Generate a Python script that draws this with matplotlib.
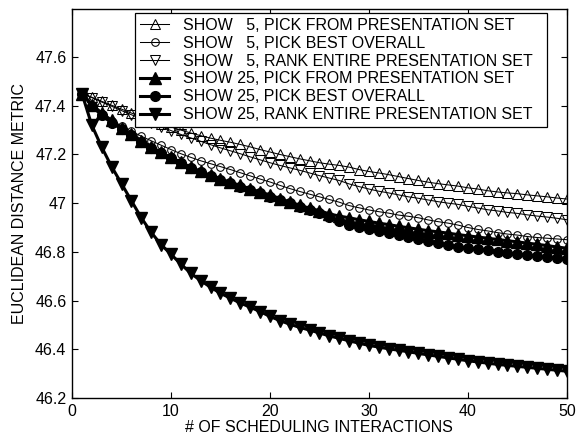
import numpy as np
import matplotlib
matplotlib.use("Agg")
import matplotlib.pyplot as plt

plt.rcParams['font.family'] = ['Liberation Sans', 'DejaVu Sans']

# x = 1..50 scheduling interactions
x = np.arange(1, 51)

show5_pick_from = [47.45, 47.435, 47.418, 47.402, 47.386, 47.37, 47.355, 47.34, 47.326, 47.313,
                   47.30, 47.288, 47.277, 47.267, 47.258, 47.25, 47.241, 47.231, 47.22, 47.21,
                   47.20, 47.191, 47.182, 47.174, 47.166, 47.16, 47.155, 47.148, 47.138, 47.13,
                   47.124, 47.117, 47.109, 47.101, 47.093, 47.086, 47.08, 47.075, 47.07, 47.063,
                   47.058, 47.051, 47.046, 47.042, 47.039, 47.034, 47.03, 47.026, 47.021, 47.017]

show5_best = [47.45, 47.40, 47.365, 47.338, 47.315, 47.295, 47.275, 47.256, 47.238, 47.22,
              47.203, 47.188, 47.174, 47.162, 47.15, 47.138, 47.125, 47.112, 47.099, 47.087,
              47.073, 47.06, 47.048, 47.037, 47.026, 47.015, 47.004, 46.99, 46.981, 46.972,
              46.965, 46.959, 46.951, 46.946, 46.94, 46.931, 46.924, 46.918, 46.91, 46.9,
              46.892, 46.886, 46.879, 46.873, 46.869, 46.863, 46.859, 46.856, 46.853, 46.85]

show5_rank = [47.45, 47.433, 47.415, 47.398, 47.38, 47.363, 47.346, 47.33, 47.314, 47.298,
              47.282, 47.268, 47.254, 47.24, 47.227, 47.215, 47.203, 47.19, 47.178, 47.166,
              47.155, 47.145, 47.135, 47.124, 47.113, 47.103, 47.093, 47.079, 47.068, 47.058,
              47.049, 47.042, 47.034, 47.026, 47.02, 47.013, 47.006, 47.0, 46.995, 46.987,
              46.98, 46.973, 46.968, 46.962, 46.958, 46.952, 46.947, 46.943, 46.938, 46.932]

show25_pick_from = [47.45, 47.405, 47.37, 47.34, 47.31, 47.282, 47.257, 47.232, 47.208, 47.188,
                    47.168, 47.148, 47.13, 47.114, 47.099, 47.086, 47.073, 47.059, 47.046, 47.034,
                    47.019, 47.005, 46.992, 46.979, 46.969, 46.956, 46.947, 46.94, 46.932, 46.925,
                    46.918, 46.912, 46.905, 46.899, 46.893, 46.887, 46.882, 46.877, 46.871, 46.866,
                    46.861, 46.856, 46.851, 46.846, 46.841, 46.836, 46.831, 46.826, 46.82, 46.815]

show25_best = [47.45, 47.40, 47.36, 47.33, 47.305, 47.278, 47.252, 47.228, 47.206, 47.186,
               47.166, 47.146, 47.128, 47.11, 47.095, 47.082, 47.068, 47.055, 47.042, 47.027,
               47.013, 47.0, 46.986, 46.973, 46.96, 46.944, 46.926, 46.912, 46.903, 46.894,
               46.884, 46.877, 46.869, 46.861, 46.853, 46.843, 46.836, 46.828, 46.821, 46.816,
               46.811, 46.807, 46.801, 46.796, 46.791, 46.787, 46.783, 46.779, 46.775, 46.771]

show25_rank = [47.45, 47.32, 47.23, 47.15, 47.08, 47.01, 46.94, 46.88, 46.83, 46.79,
               46.75, 46.712, 46.682, 46.655, 46.63, 46.61, 46.59, 46.573, 46.555, 46.535,
               46.518, 46.503, 46.49, 46.479, 46.467, 46.455, 46.445, 46.435, 46.425, 46.416,
               46.409, 46.402, 46.396, 46.39, 46.383, 46.377, 46.371, 46.365, 46.359, 46.353,
               46.348, 46.343, 46.338, 46.334, 46.33, 46.326, 46.322, 46.318, 46.314, 46.31]

labels = ["SHOW   5, PICK FROM PRESENTATION SET",
          "SHOW   5, PICK BEST OVERALL",
          "SHOW   5, RANK ENTIRE PRESENTATION SET",
          "SHOW 25, PICK FROM PRESENTATION SET",
          "SHOW 25, PICK BEST OVERALL",
          "SHOW 25, RANK ENTIRE PRESENTATION SET"]

yticks = [46.2, 46.4, 46.6, 46.8, 47.0, 47.2, 47.4, 47.6]
ytick_labels = ["46.2", "46.4", "46.6", "46.8", "47", "47.2", "47.4", "47.6"]
xticks = [0, 10, 20, 30, 40, 50]

fig = plt.figure(figsize=(5.79, 4.38), dpi=100)
ax = fig.add_axes([0.1244, 0.0913, 0.8545, 0.8881])

# thin lines, open markers
ax.plot(x, show5_pick_from, 'k-', marker='^', ms=6.5, mfc='none', mew=0.75, lw=0.75, label=labels[0])
ax.plot(x, show5_best, 'k-', marker='o', ms=5.5, mfc='none', mew=0.75, lw=0.75, label=labels[1])
ax.plot(x, show5_rank, 'k-', marker='v', ms=6.5, mfc='none', mew=0.75, lw=0.75, label=labels[2])
# thick lines, filled markers
ax.plot(x, show25_pick_from, 'k-', marker='^', ms=8, lw=2.2, label=labels[3])
ax.plot(x, show25_best, 'k-', marker='o', ms=7, lw=2.2, label=labels[4])
ax.plot(x, show25_rank, 'k-', marker='v', ms=8.5, lw=2.2, label=labels[5])

ax.set_xlim(0, 50)
ax.set_ylim(46.2, 47.797)
ax.set_xticks(xticks)
ax.set_yticks(yticks)
ax.set_yticklabels(ytick_labels)
ax.tick_params(direction='in', top=True, right=True, length=4, width=0.8,
               labelsize=11.5, pad=4)
for s in ax.spines.values():
    s.set_linewidth(1.0)

ax.set_xlabel("# OF SCHEDULING INTERACTIONS", fontsize=11.5, labelpad=1)
ax.set_ylabel("EUCLIDEAN DISTANCE METRIC", fontsize=11.5, labelpad=6)

# legend box stretched to the reference width
leg = ax.legend(loc='upper left', bbox_to_anchor=(0.1273, 0.7, 0.8323, 0.2897),
                mode='expand', borderaxespad=0,
                fontsize=11.5, fancybox=False, framealpha=1, edgecolor='black',
                handlelength=1.85, handletextpad=0.85, labelspacing=0.18, borderpad=0.3)
leg.get_frame().set_linewidth(0.9)

fig.savefig("out.png", dpi=100)
